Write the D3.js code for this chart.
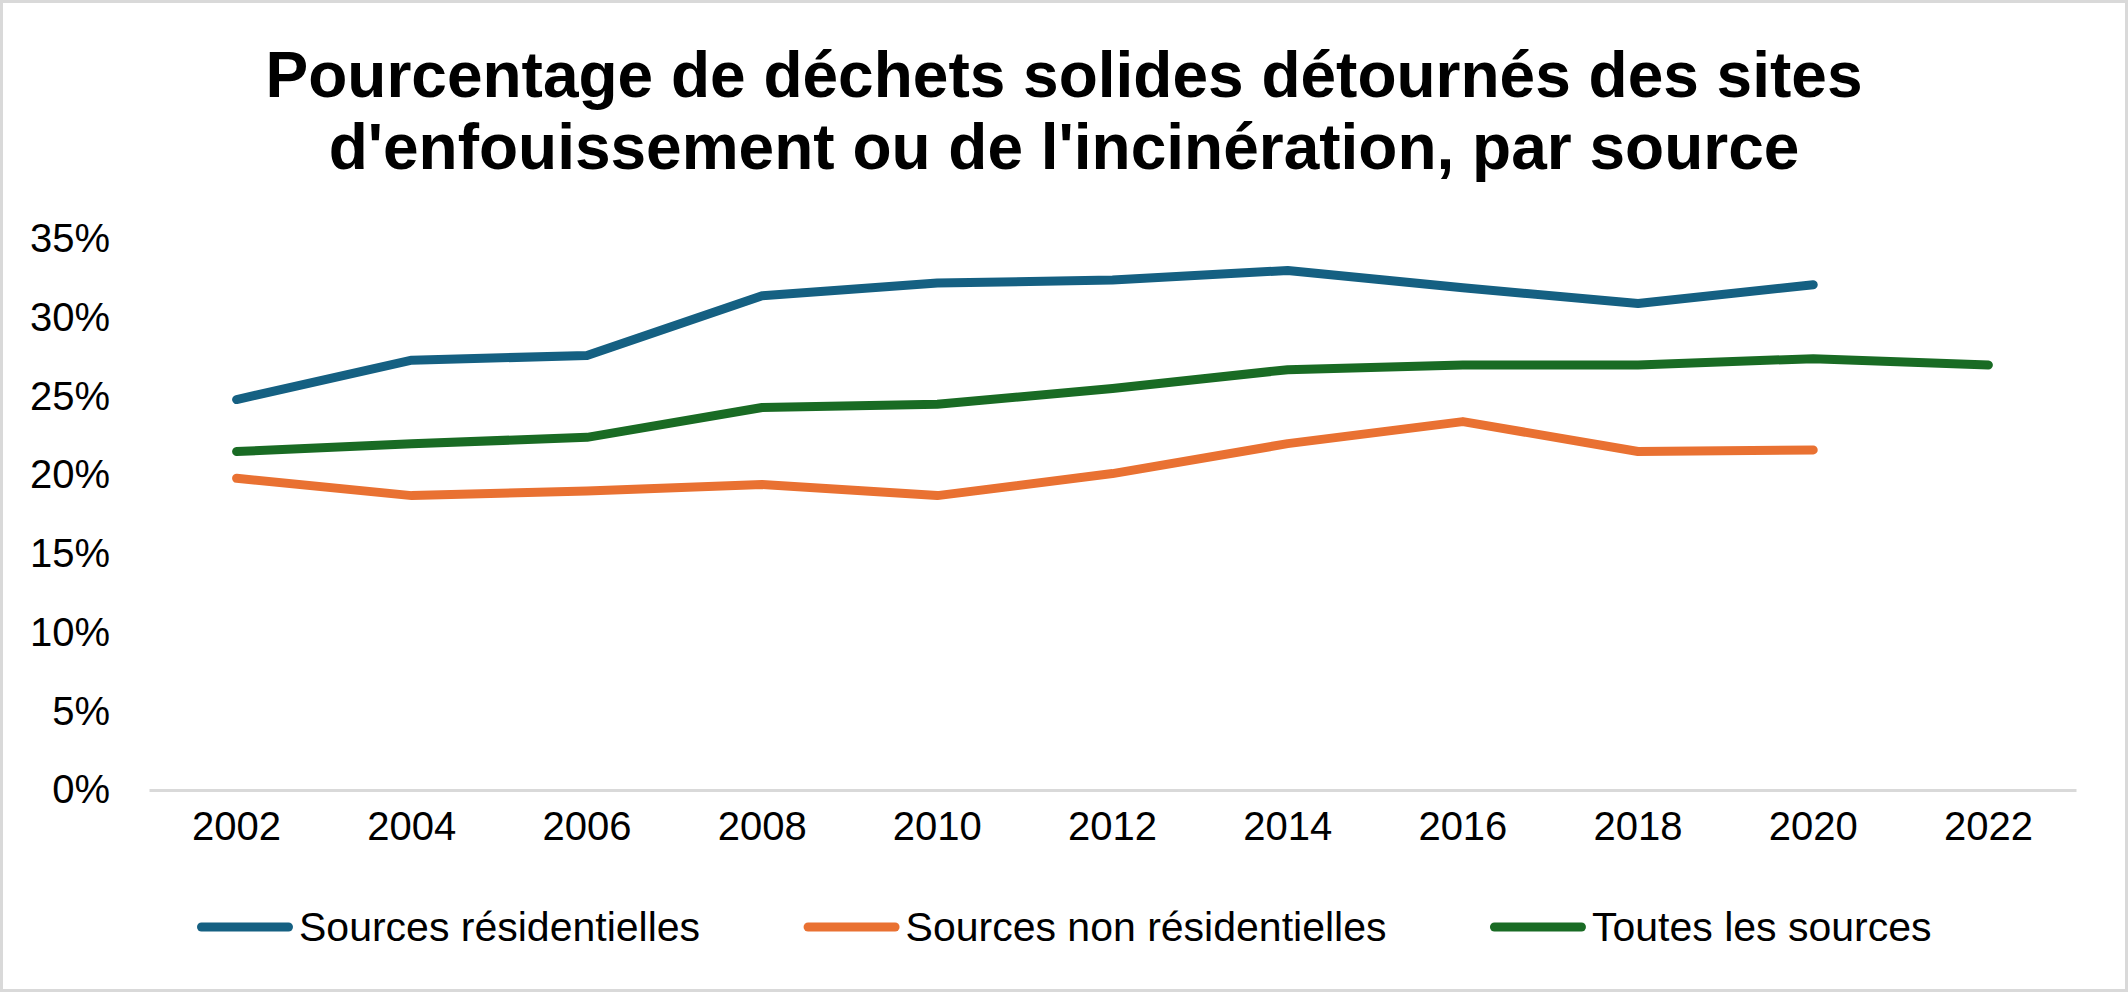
<!DOCTYPE html>
<html>
<head>
<meta charset="utf-8">
<script src="https://cdn.jsdelivr.net/npm/d3@7"></script>
<style>
  body { margin: 0; background: #fff; }
  text { font-family: "Liberation Sans", Arial, sans-serif; fill: #000; }
</style>
</head>
<body>
<script>
// data (percent)
var years = ["2002", "2004", "2006", "2008", "2010", "2012", "2014", "2016", "2018", "2020", "2022"];
var residentielles = [24.8, 27.3, 27.6, 31.4, 32.2, 32.4, 33.0, 31.9, 30.9, 32.1, null];
var nonResidentielles = [19.8, 18.7, 19.0, 19.4, 18.7, 20.1, 22.0, 23.4, 21.5, 21.6, null];
var toutesSources = [21.5, 22.0, 22.4, 24.3, 24.5, 25.5, 26.7, 27.0, 27.0, 27.4, 27.0];
var yTicks = [0, 5, 10, 15, 20, 25, 30, 35];
var seriesNames = ["Sources résidentielles", "Sources non résidentielles", "Toutes les sources"];
var seriesColors = ["#156082", "#E97132", "#196B24"];
var titleLines = ["Pourcentage de déchets solides détournés des sites",
                  "d'enfouissement ou de l'incinération, par source"];

var width = 2128, height = 992;
var seriesValues = [residentielles, nonResidentielles, toutesSources];

var svg = d3.select('body').append('svg')
    .attr('width', width)
    .attr('height', height);

svg.append('rect')
    .attr('x', 1.5).attr('y', 1.5)
    .attr('width', width - 3).attr('height', height - 3)
    .attr('fill', '#fff')
    .attr('stroke', '#d9d9d9')
    .attr('stroke-width', 3);

// title
svg.append('text')
    .attr('x', 1064)
    .attr('text-anchor', 'middle')
    .style('font-size', '64px')
    .style('font-weight', 'bold')
    .selectAll('tspan')
    .data(titleLines)
    .enter().append('tspan')
    .attr('x', 1064)
    .attr('y', function (d, i) { return 97 + i * 71.5; })
    .text(function (d) { return d; });

var xScale = d3.scaleBand()
    .domain(years)
    .range([149, 2076]);

var yScale = d3.scaleLinear()
    .domain([0, 35])
    .range([790, 239]);

// y axis labels (no axis line in reference)
var yAxis = d3.axisLeft(yScale)
    .tickValues(yTicks)
    .tickFormat(function (d) { return d + '%'; })
    .tickSize(0)
    .tickPadding(0);

var gy = svg.append('g')
    .attr('transform', 'translate(110,0)')
    .call(yAxis);
gy.select('.domain').remove();
gy.selectAll('text')
    .style('font-size', '40px')
    .style('font-family', '"Liberation Sans", Arial, sans-serif')
    .attr('fill', '#000');

// x axis
var xAxis = d3.axisBottom(xScale)
    .tickSize(0)
    .tickPadding(22);

var gx = svg.append('g')
    .attr('transform', 'translate(0,790)')
    .call(xAxis);
gx.select('.domain')
    .attr('stroke', '#d9d9d9')
    .attr('stroke-width', 3);
gx.selectAll('text')
    .style('font-size', '40px')
    .style('font-family', '"Liberation Sans", Arial, sans-serif')
    .attr('fill', '#000');

// lines
var line = d3.line()
    .defined(function (d) { return d != null; })
    .x(function (d, i) { return xScale(years[i]) + xScale.bandwidth() / 2; })
    .y(function (d) { return yScale(d); });

svg.selectAll('path.series')
    .data(seriesValues)
    .enter().append('path')
    .attr('class', 'series')
    .attr('d', line)
    .attr('fill', 'none')
    .attr('stroke', function (d, i) { return seriesColors[i]; })
    .attr('stroke-width', 9)
    .attr('stroke-linecap', 'round')
    .attr('stroke-linejoin', 'round');

// legend
var legend = svg.append('g');
var items = legend.selectAll('g')
    .data(seriesNames)
    .enter().append('g');

items.append('line')
    .attr('x1', 4.5).attr('x2', 91.5)
    .attr('y1', 0).attr('y2', 0)
    .attr('stroke', function (d, i) { return seriesColors[i]; })
    .attr('stroke-width', 9)
    .attr('stroke-linecap', 'round');

items.append('text')
    .attr('x', 102)
    .attr('y', 14)
    .style('font-size', '41px')
    .text(function (d) { return d; });

var offset = 0;
var widths = [];
items.each(function () {
    widths.push(this.getBBox().width);
});
var gap = 108;
var total = d3.sum(widths) + gap * (widths.length - 1);
var startX = 1062 - total / 2;
items.attr('transform', function (d, i) {
    var x = startX + offset;
    offset += widths[i] + gap;
    return 'translate(' + x + ',927)';
});
</script>
</body>
</html>
